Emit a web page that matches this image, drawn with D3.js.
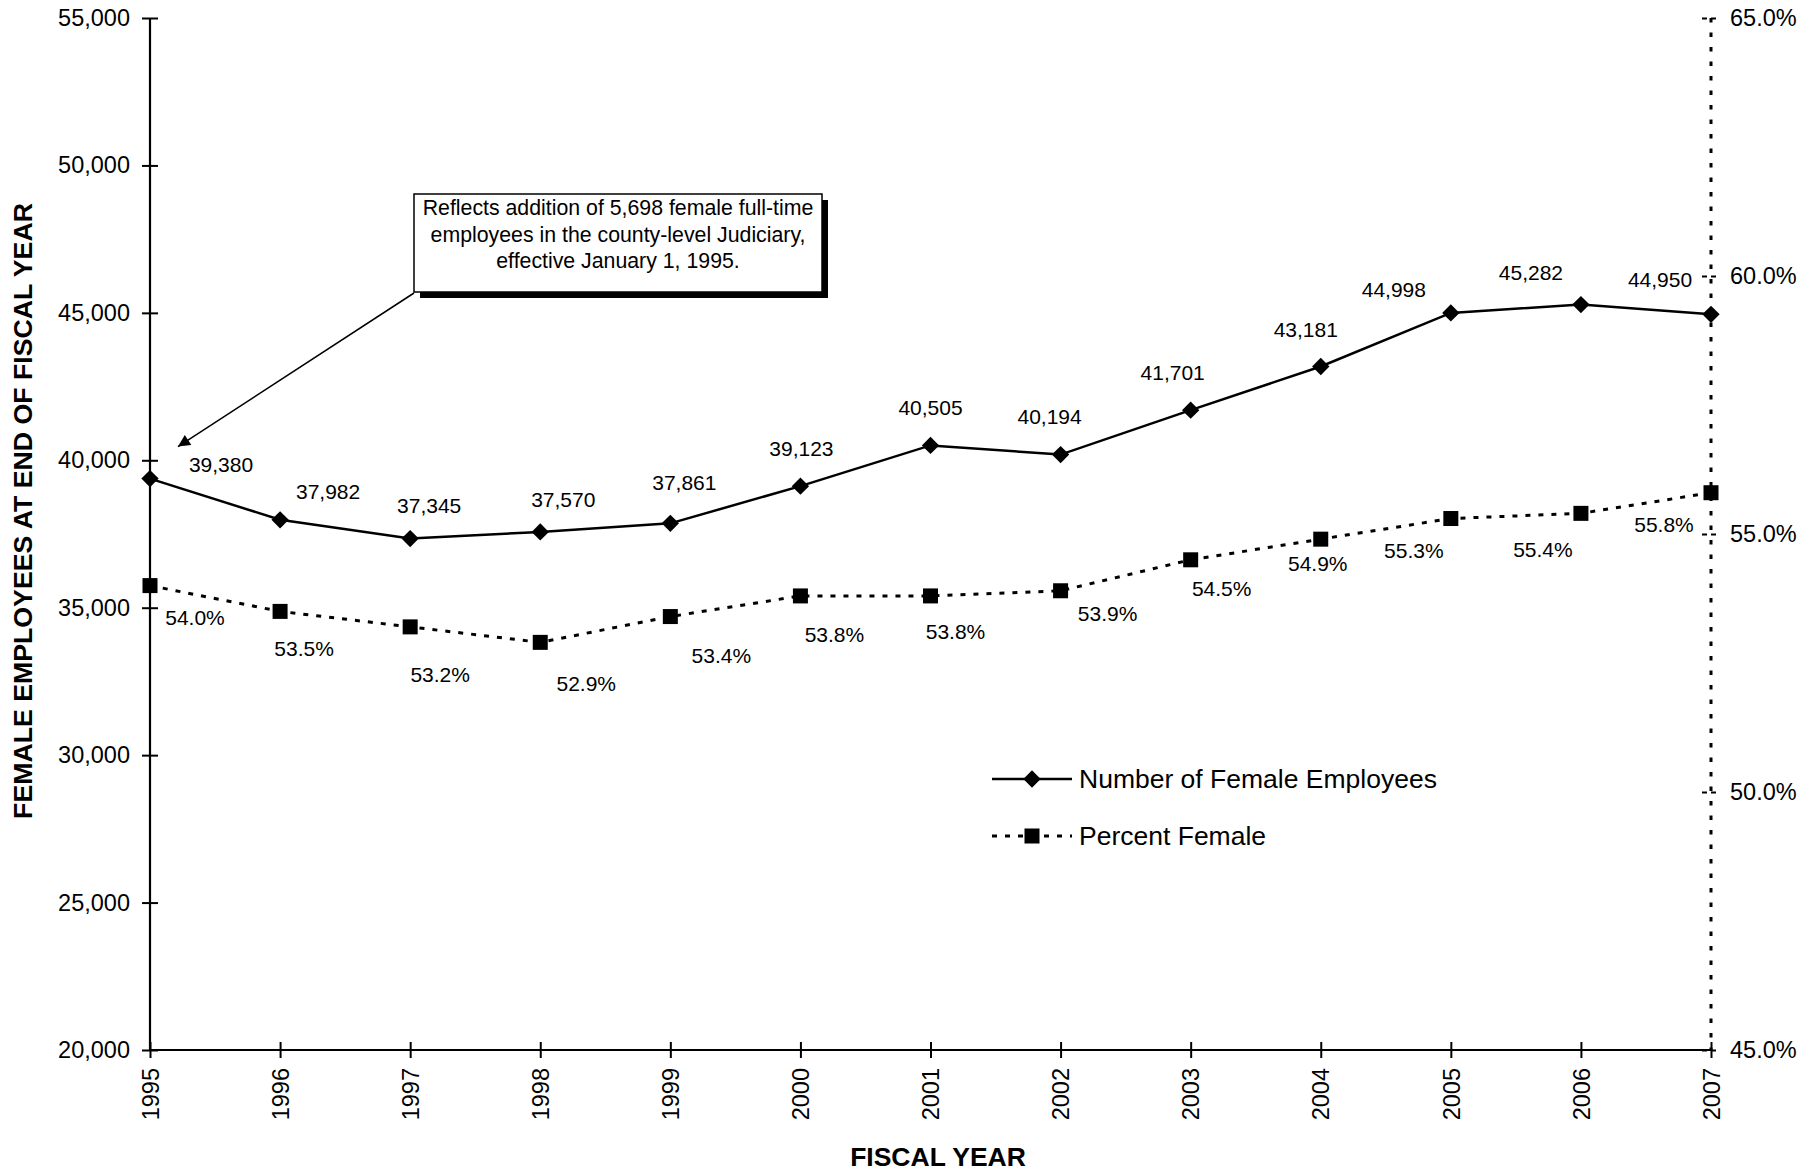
<!DOCTYPE html>
<html><head><meta charset="utf-8">
<script src="https://cdn.jsdelivr.net/npm/d3@7"></script>
<style>body{margin:0;background:#fff}svg{display:block}</style>
</head><body>
<svg id="chart" width="1820" height="1172"></svg>
<script>
const years = ["1995","1996","1997","1998","1999","2000","2001","2002","2003","2004","2005","2006","2007"];
const femaleEmployees = [39380, 37982, 37345, 37570, 37861, 39123, 40505, 40194, 41701, 43181, 44998, 45282, 44950];
const percentFemale = [54.0, 53.5, 53.2, 52.9, 53.4, 53.8, 53.8, 53.9, 54.5, 54.9, 55.3, 55.4, 55.8];
const leftTicks = [20000, 25000, 30000, 35000, 40000, 45000, 50000, 55000];
const rightTicks = [45, 50, 55, 60, 65];
const seriesNames = ["Number of Female Employees", "Percent Female"];
const annotationLines = ["Reflects addition of 5,698 female full-time", "employees in the county-level Judiciary,", "effective January 1, 1995."];

// label placement (layout only)
const numLabelOffsets = [[71,-14],[48,-28],[19,-33],[23,-32],[14,-41],[1,-37],[0,-38],[-11,-38],[-18,-37],[-15,-37],[-57,-23],[-50,-32],[-51,-35]];
const pctLabelOffsets = [[45,32],[24,37],[30,48],[46,41],[51,39],[34,39],[25,36],[47,23],[31,29],[-3,24],[-37,32],[-38,36],[-47,32]];

const FONT = "'Liberation Sans', Arial, Helvetica, sans-serif";
const svg = d3.select("#chart").style("font-family", FONT);
const X0 = 150, X1 = 1711, YT = 18, YB = 1050;

const x = d3.scalePoint().domain(years).range([X0, X1]);
const yL = d3.scaleLinear().domain([20000, 55000]).range([YB, YT]);
const yR = d3.scaleLinear().domain([45, 65]).range([YB, YT]);

// Right axis (dotted)
const gR = svg.append("g").attr("transform", `translate(${X1},0)`)
  .call(d3.axisRight(yR).tickValues(rightTicks).tickFormat(d => d3.format(".1f")(d) + "%").tickSize(9).tickPadding(10));
gR.select(".domain").remove();
gR.selectAll(".tick line").attr("x1", -9).attr("stroke", "#000").attr("stroke-width", 2).attr("stroke-dasharray", "5,4");
gR.selectAll(".tick text").attr("font-size", 23.5).attr("fill", "#000").attr("font-family", FONT).attr("x", 19);
svg.append("line").attr("x1", X1).attr("x2", X1).attr("y1", YT).attr("y2", YB)
  .attr("stroke", "#000").attr("stroke-width", 3).attr("stroke-dasharray", "4.5,10");

// Left axis
const gL = svg.append("g").attr("transform", `translate(${X0},0)`)
  .call(d3.axisLeft(yL).tickValues(leftTicks).tickFormat(d3.format(",")).tickSize(8).tickPadding(12));
gL.select(".domain").attr("d", `M0,${YT}V${YB}`).attr("stroke", "#000").attr("stroke-width", 2.2);
gL.selectAll(".tick line").attr("x2", -8).attr("x1", 8).attr("stroke", "#000").attr("stroke-width", 2);
gL.selectAll(".tick text").attr("font-size", 23.5).attr("fill", "#000").attr("font-family", FONT).attr("x", -20);

// Bottom axis
const gB = svg.append("g").attr("transform", `translate(0,${YB})`)
  .call(d3.axisBottom(x).tickSize(8).tickPadding(12));
gB.select(".domain").attr("d", `M${X0},0H${X1}`).attr("stroke", "#000").attr("stroke-width", 2.2);
gB.selectAll(".tick line").attr("y1", -8).attr("y2", 8).attr("stroke", "#000").attr("stroke-width", 2);
gB.selectAll(".tick text").attr("font-size", 23.5).attr("fill", "#000").attr("font-family", FONT)
  .attr("transform", "rotate(-90)").attr("text-anchor", "end").attr("x", -18).attr("y", 0).attr("dy", "0.35em");

// Axis titles
svg.append("text").attr("x", 938).attr("y", 1166).attr("text-anchor", "middle")
  .attr("font-size", 26.5).attr("font-weight", "bold").text("FISCAL YEAR");
svg.append("text").attr("transform", "translate(32,511) rotate(-90)").attr("text-anchor", "middle")
  .attr("font-size", 26.7).attr("font-weight", "bold").text("FEMALE EMPLOYEES AT END OF FISCAL YEAR");

// Lines
const numLine = d3.line().x((d, i) => x(years[i])).y(d => yL(d));
const pctLine = d3.line().x((d, i) => x(years[i])).y(d => yR(d));
svg.append("path").datum(percentFemale).attr("d", pctLine).attr("fill", "none")
  .attr("stroke", "#000").attr("stroke-width", 3).attr("stroke-dasharray", "5,8");
svg.append("path").datum(femaleEmployees).attr("d", numLine).attr("fill", "none")
  .attr("stroke", "#000").attr("stroke-width", 2.5);

const diamond = d3.symbol().type(d3.symbolSquare).size(150);
svg.append("g").selectAll("path").data(femaleEmployees).join("path")
  .attr("d", diamond)
  .attr("transform", (d, i) => `translate(${x(years[i])},${yL(d)}) rotate(45)`).attr("fill", "#000");
svg.append("g").selectAll("rect").data(percentFemale).join("rect")
  .attr("x", (d, i) => x(years[i]) - 7.5).attr("y", d => yR(d) - 7.5)
  .attr("width", 15).attr("height", 15).attr("fill", "#000");

// Data labels
svg.append("g").selectAll("text").data(femaleEmployees).join("text")
  .attr("x", (d, i) => x(years[i]) + numLabelOffsets[i][0])
  .attr("y", (d, i) => yL(d) + numLabelOffsets[i][1])
  .attr("dy", "0.35em").attr("text-anchor", "middle").attr("font-size", 21).text(d => d3.format(",")(d));
svg.append("g").selectAll("text").data(percentFemale).join("text")
  .attr("x", (d, i) => x(years[i]) + pctLabelOffsets[i][0])
  .attr("y", (d, i) => yR(d) + pctLabelOffsets[i][1])
  .attr("dy", "0.35em").attr("text-anchor", "middle").attr("font-size", 21).text(d => d3.format(".1f")(d) + "%");

// Legend
const lg = svg.append("g");
lg.append("line").attr("x1", 992).attr("x2", 1072).attr("y1", 779).attr("y2", 779).attr("stroke", "#000").attr("stroke-width", 2.5);
lg.append("path").attr("d", diamond).attr("transform", "translate(1032,779) rotate(45)").attr("fill", "#000");
lg.append("text").attr("x", 1079).attr("y", 779).attr("dy", "0.35em").attr("font-size", 26.5).text(seriesNames[0]);
lg.append("line").attr("x1", 992).attr("x2", 1072).attr("y1", 836).attr("y2", 836).attr("stroke", "#000").attr("stroke-width", 3).attr("stroke-dasharray", "5,8");
lg.append("rect").attr("x", 1024.5).attr("y", 828.5).attr("width", 15).attr("height", 15).attr("fill", "#000");
lg.append("text").attr("x", 1079).attr("y", 836).attr("dy", "0.35em").attr("font-size", 26.5).text(seriesNames[1]);

// Annotation
const defs = svg.append("defs");
defs.append("marker").attr("id", "arr").attr("viewBox", "0 0 10 10").attr("refX", 10).attr("refY", 5)
  .attr("markerWidth", 16).attr("markerHeight", 12).attr("markerUnits", "userSpaceOnUse").attr("orient", "auto")
  .append("path").attr("d", "M0,0L10,5L0,10z").attr("fill", "#000");
const ax0 = x(years[0]);
svg.append("line").attr("x1", 414).attr("y1", 293).attr("x2", ax0 + 28).attr("y2", yL(femaleEmployees[0]) - 32)
  .attr("stroke", "#000").attr("stroke-width", 1.5).attr("marker-end", "url(#arr)");
svg.append("rect").attr("x", 420).attr("y", 200).attr("width", 408).attr("height", 98).attr("fill", "#000");
svg.append("rect").attr("x", 414).attr("y", 194).attr("width", 408).attr("height", 98).attr("fill", "#fff").attr("stroke", "#000").attr("stroke-width", 1.5);
svg.append("g").selectAll("text").data(annotationLines).join("text")
  .attr("x", 618).attr("y", (d, i) => 208 + i * 26.5).attr("dy", "0.35em").attr("text-anchor", "middle").attr("font-size", 21.3).text(d => d);
</script>
</body></html>
